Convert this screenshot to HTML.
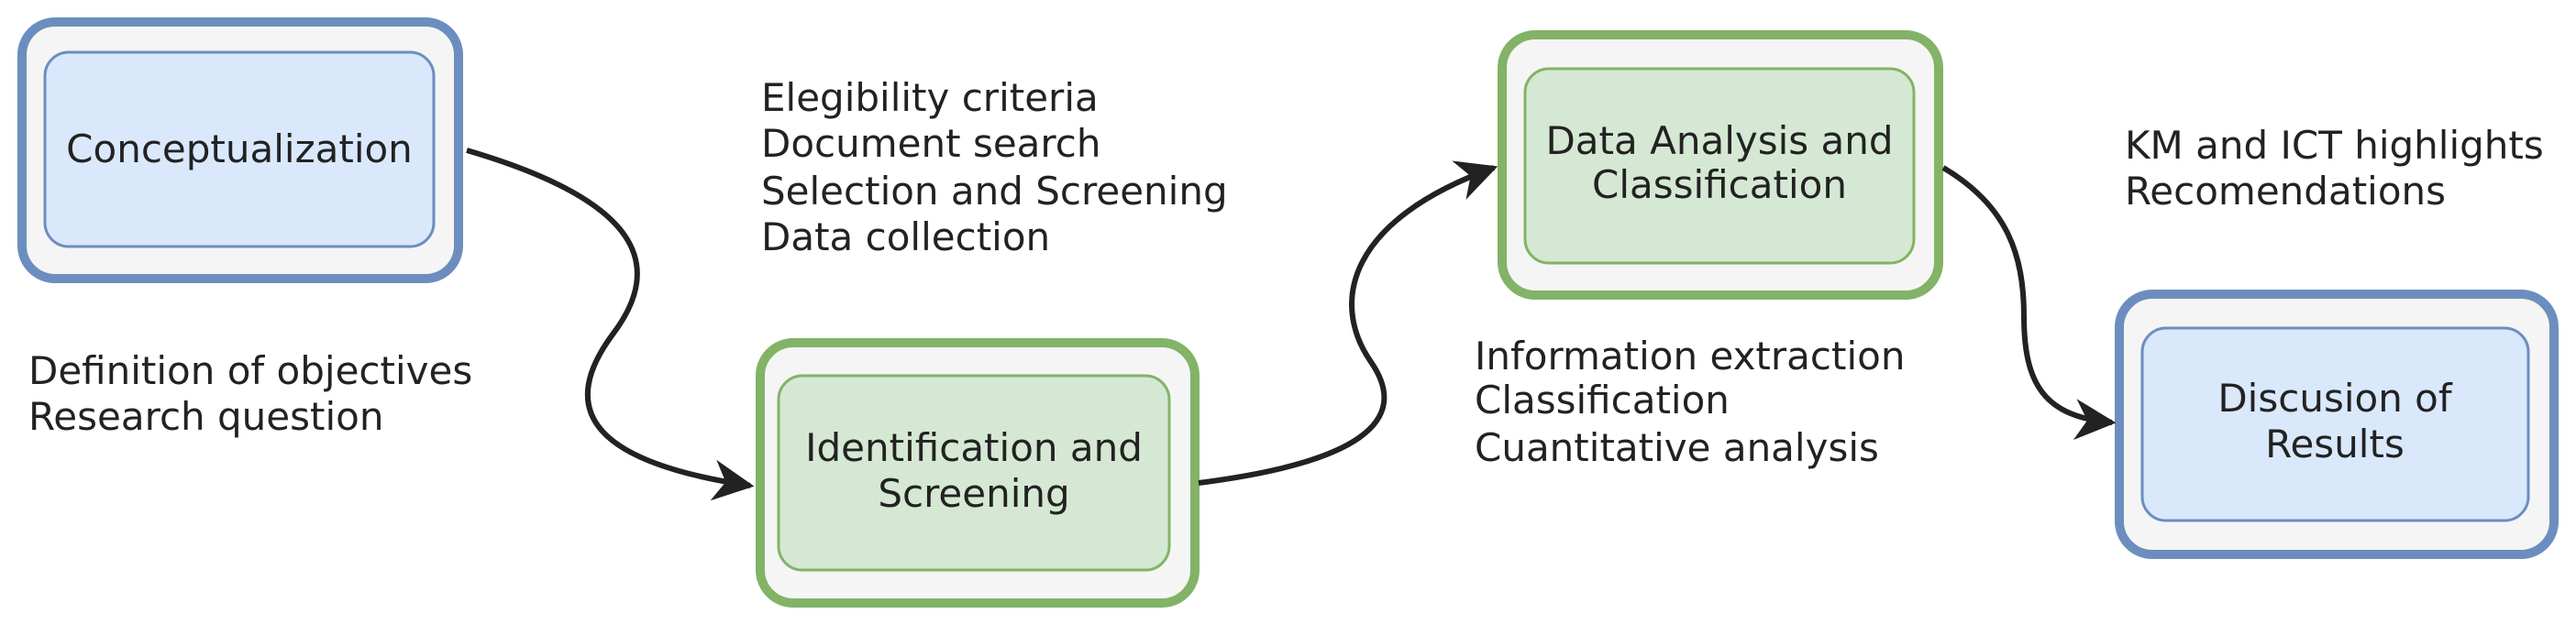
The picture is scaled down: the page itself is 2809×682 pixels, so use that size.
<!DOCTYPE html>
<html><head><meta charset="utf-8"><style>
html,body{margin:0;padding:0;background:#fff;}
svg{display:block;}
text{font-family:"DejaVu Sans","Liberation Sans",sans-serif;fill:#222;font-size:42px;}
</style></head><body>
<svg width="2809" height="682" viewBox="0 0 2809 682" xmlns="http://www.w3.org/2000/svg">
<defs>
<marker id="a" viewBox="0 0 10 10" refX="9" refY="5" markerWidth="7.5" markerHeight="7.5" orient="auto" markerUnits="strokeWidth">
<path d="M0,0 L10,5 L0,10 L3,5 z" fill="#222"/>
</marker>
</defs>
<rect x="24" y="24" width="476" height="280" rx="36" fill="#f5f5f5" stroke="#6c8ebf" stroke-width="10"/>
<rect x="49" y="57" width="424" height="212" rx="26" fill="#dae8fc" stroke="#6c8ebf" stroke-width="3"/>
<text x="261" y="177" text-anchor="middle">Conceptualization</text>
<rect x="829" y="374" width="474" height="284" rx="36" fill="#f5f5f5" stroke="#82b366" stroke-width="10"/>
<rect x="849" y="410" width="426" height="212" rx="26" fill="#d5e8d4" stroke="#82b366" stroke-width="3"/>
<text x="1062" y="503" text-anchor="middle">Identification and</text>
<text x="1062" y="553" text-anchor="middle">Screening</text>
<rect x="1638" y="38" width="476" height="284" rx="36" fill="#f5f5f5" stroke="#82b366" stroke-width="10"/>
<rect x="1663" y="75" width="424" height="212" rx="26" fill="#d5e8d4" stroke="#82b366" stroke-width="3"/>
<text x="1875" y="168" text-anchor="middle">Data Analysis and</text>
<text x="1875" y="216" text-anchor="middle">Classification</text>
<rect x="2311" y="321" width="474" height="284" rx="36" fill="#f5f5f5" stroke="#6c8ebf" stroke-width="10"/>
<rect x="2336" y="358" width="421" height="210" rx="26" fill="#dae8fc" stroke="#6c8ebf" stroke-width="3"/>
<text x="2546" y="449" text-anchor="middle">Discusion of</text>
<text x="2546" y="499" text-anchor="middle">Results</text>
<text x="830" y="121">Elegibility criteria</text>
<text x="830" y="171">Document search</text>
<text x="830" y="223">Selection and Screening</text>
<text x="830" y="273">Data collection</text>
<text x="31" y="419">Definition of objectives</text>
<text x="31" y="469">Research question</text>
<text x="1608" y="403">Information extraction</text>
<text x="1608" y="451">Classification</text>
<text x="1608" y="503">Cuantitative analysis</text>
<text x="2317" y="173">KM and ICT highlights</text>
<text x="2317" y="223">Recomendations</text>
<g fill="none" stroke="#222" stroke-width="6">
<path d="M509,164 C700,220 725,290 668,365 C605,450 650,505 818,530" marker-end="url(#a)"/>
<path d="M1307,527 C1480,505 1540,460 1495,395 C1450,330 1470,240 1629,183" marker-end="url(#a)"/>
<path d="M2119,183 C2190,225 2207,280 2207,345 C2207,420 2230,455 2303,461" marker-end="url(#a)"/>
</g>
</svg>
</body></html>
